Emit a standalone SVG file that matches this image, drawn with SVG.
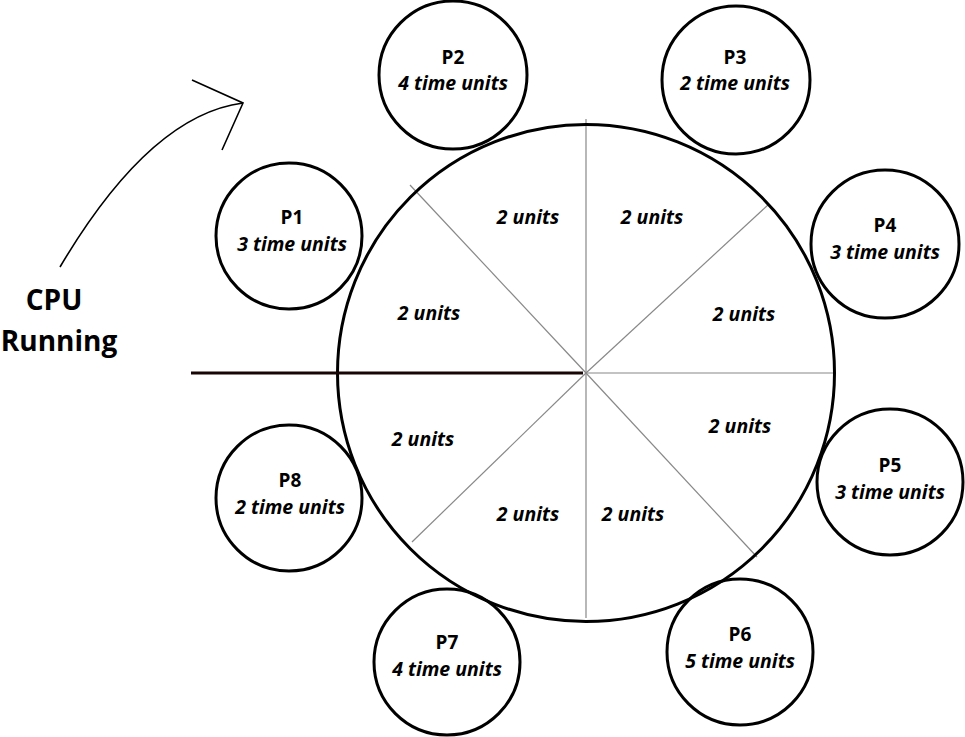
<svg xmlns="http://www.w3.org/2000/svg" width="965" height="737" viewBox="0 0 965 737">
  <style>
    .ring { fill: none; stroke: #000; stroke-width: 3; }
    .spoke { stroke: #888; stroke-width: 1.2; }
    .name { font-family: "Open Sans", "Liberation Sans", sans-serif; font-weight: bold; font-size: 19px; text-anchor: middle; fill: #000; }
    .time { font-family: "Open Sans", "Liberation Sans", sans-serif; font-weight: bold; font-style: italic; font-size: 19.5px; text-anchor: middle; fill: #000; }
    .title { font-family: "Open Sans", "Liberation Sans", sans-serif; font-weight: bold; font-size: 28px; text-anchor: middle; fill: #000; }
  </style>
  <rect width="965" height="737" fill="#fff"/>

  <!-- time-slice wheel -->
  <g id="wheel">
    <line class="spoke" x1="586" y1="119" x2="586" y2="618"/>
    <line class="spoke" x1="586" y1="373" x2="834" y2="373"/>
    <line class="spoke" x1="586" y1="373" x2="410" y2="185"/>
    <line class="spoke" x1="586" y1="373" x2="769" y2="204"/>
    <line class="spoke" x1="586" y1="373" x2="757" y2="557"/>
    <line class="spoke" x1="586" y1="373" x2="412" y2="542"/>
    <circle class="ring" cx="586" cy="373" r="248.5"/>
    <text class="time" x="528" y="223.5">2 units</text>
    <text class="time" x="652" y="223.5">2 units</text>
    <text class="time" x="429" y="319.5">2 units</text>
    <text class="time" x="744" y="320.5">2 units</text>
    <text class="time" x="740" y="432.5">2 units</text>
    <text class="time" x="423" y="445.5">2 units</text>
    <text class="time" x="528" y="520.5">2 units</text>
    <text class="time" x="633" y="520.5">2 units</text>
  </g>

  <!-- processes -->
  <g id="P1"><circle class="ring" cx="289" cy="236" r="73"/><text class="name" x="292" y="223.5">P1</text><text class="time" x="292" y="250.5">3 time units</text></g>
  <g id="P2"><circle class="ring" cx="453" cy="75" r="74"/><text class="name" x="453" y="63.5">P2</text><text class="time" x="453" y="89.5">4 time units</text></g>
  <g id="P3"><circle class="ring" cx="736" cy="80" r="74"/><text class="name" x="735" y="63.5">P3</text><text class="time" x="735" y="89.5">2 time units</text></g>
  <g id="P4"><circle class="ring" cx="885" cy="244" r="74"/><text class="name" x="885" y="231.5">P4</text><text class="time" x="885" y="258.5">3 time units</text></g>
  <g id="P5"><circle class="ring" cx="890" cy="482" r="73"/><text class="name" x="890" y="471.5">P5</text><text class="time" x="890" y="498.5">3 time units</text></g>
  <g id="P6"><circle class="ring" cx="740" cy="652" r="73"/><text class="name" x="740" y="640.5">P6</text><text class="time" x="740" y="667.5">5 time units</text></g>
  <g id="P7"><circle class="ring" cx="447" cy="662" r="73"/><text class="name" x="447" y="648.5">P7</text><text class="time" x="447" y="675.5">4 time units</text></g>
  <g id="P8"><circle class="ring" cx="289" cy="498" r="73"/><text class="name" x="290" y="486.5">P8</text><text class="time" x="290" y="513.5">2 time units</text></g>

  <!-- CPU label and pointer -->
  <g id="cpu">
    <text class="title" x="54" y="310">CPU</text>
    <text class="title" x="59" y="351">Running</text>
  </g>
  <g id="connectors" fill="none" stroke="#000" stroke-width="1.6">
    <path d="M60,267 Q150,115 243,103"/>
    <path d="M192,80 L243,103 L222,150"/>
    <line x1="191" y1="373" x2="583" y2="373" stroke="#1a0505" stroke-width="3"/>
  </g>
</svg>
